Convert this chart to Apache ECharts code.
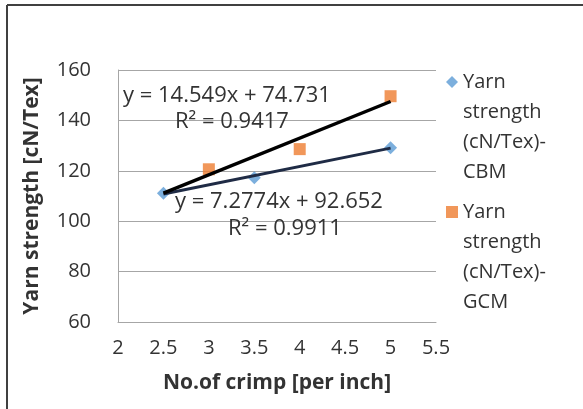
<!DOCTYPE html>
<html>
<head>
<meta charset="utf-8">
<script src="https://cdn.jsdelivr.net/npm/echarts@6/dist/echarts.min.js"></script>
<style>
  html, body { margin: 0; padding: 0; background: #fff; }
  #chart { width: 583px; height: 409px; }
</style>
</head>
<body>
<div id="chart"></div>
<script>
// crimp (per inch) vs yarn strength (cN/Tex)
var cbmData = [[2.5, 111.1], [3.5, 117.2], [5, 129.1]];
var gcmData = [[3, 120.6], [4, 128.6], [5, 149.6]];
// linear trendline end points
var cbmTrend = [[2.5, 110.8], [5, 129.0]];
var gcmTrend = [[2.5, 111.1], [5, 147.5]];
var seriesNames = ["Yarn strength (cN/Tex)-CBM", "Yarn strength (cN/Tex)-GCM"];
var cbmEquation = ["y = 7.2774x + 92.652", "R² = 0.9911"];
var gcmEquation = ["y = 14.549x + 74.731", "R² = 0.9417"];

var font = "Open Sans";
var txtColor = "#333";

var myChart = echarts.init(document.getElementById("chart"));

var option = {
  backgroundColor: "#fff",
  animation: false,
  textStyle: { fontFamily: font },
  grid: { left: 118, right: 147, top: 70, bottom: 87 },
  legend: {
    orient: "vertical",
    left: 446,
    top: -23,
    padding: 0,
    itemGap: -80,
    itemWidth: 12,
    itemHeight: 12,
    data: [
      { name: seriesNames[0], icon: "diamond" },
      { name: seriesNames[1], icon: "rect" }
    ],
    // three empty lines first, so the first text line sits level with the icon
    formatter: function (name) {
      return "\n\n\n" + name.replace("Yarn strength ", "Yarn\nstrength\n").replace(")-", ")-\n");
    },
    textStyle: {
      fontFamily: font,
      fontSize: 20,
      color: txtColor,
      lineHeight: 30
    }
  },
  xAxis: {
    type: "value",
    min: 2,
    max: 5.5,
    interval: 0.5,
    name: "No.of crimp [per inch]",
    nameLocation: "middle",
    nameGap: 51,
    nameTextStyle: { fontFamily: font, fontSize: 21, fontWeight: "bold", color: txtColor },
    axisLine: { show: true, lineStyle: { color: "#a6a6a6", width: 1 } },
    axisTick: { show: false },
    splitLine: { show: false },
    axisLabel: { fontFamily: font, fontSize: 20, color: txtColor, margin: 16 }
  },
  yAxis: {
    type: "value",
    min: 60,
    max: 160,
    interval: 20,
    name: "Yarn strength [cN/Tex]",
    nameLocation: "middle",
    nameGap: 75,
    nameTextStyle: { fontFamily: font, fontSize: 21, fontWeight: "bold", color: txtColor },
    axisLine: { show: true, lineStyle: { color: "#a6a6a6", width: 1 } },
    axisTick: { show: false },
    splitLine: { show: true, lineStyle: { color: "#a6a6a6", width: 1 } },
    axisLabel: { fontFamily: font, fontSize: 20, color: txtColor, margin: 27 }
  },
  series: [
    {
      name: seriesNames[0],
      type: "scatter",
      symbol: "diamond",
      symbolSize: 13,
      itemStyle: { color: "#5b9bd5" },
      data: cbmData,
      z: 2
    },
    {
      name: seriesNames[1],
      type: "scatter",
      symbol: "rect",
      symbolSize: 12,
      itemStyle: { color: "#ed7d31" },
      data: gcmData,
      z: 2
    },
    {
      name: "cbm trend",
      type: "line",
      showSymbol: false,
      symbol: "none",
      lineStyle: { color: "#1f2b45", width: 3 },
      data: cbmTrend,
      z: 3
    },
    {
      name: "gcm trend",
      type: "line",
      showSymbol: false,
      symbol: "none",
      lineStyle: { color: "#000", width: 3.5 },
      data: gcmTrend,
      z: 4
    }
  ],
  graphic: [
    // outer chart border (only top and left visible)
    { type: "line", shape: { x1: 7, y1: 5, x2: 583, y2: 5 }, style: { stroke: "#404040", lineWidth: 2 } },
    { type: "line", shape: { x1: 7, y1: 5, x2: 7, y2: 409 }, style: { stroke: "#404040", lineWidth: 2 } },
    { type: "text", left: 123, top: 85, style: { text: gcmEquation[0], font: "22px " + font, fill: txtColor }, z: 10 },
    { type: "text", left: 175, top: 111, style: { text: gcmEquation[1], font: "22px " + font, fill: txtColor }, z: 10 },
    { type: "text", left: 175, top: 191, style: { text: cbmEquation[0], font: "22px " + font, fill: txtColor }, z: 10 },
    { type: "text", left: 228, top: 218, style: { text: cbmEquation[1], font: "22px " + font, fill: txtColor }, z: 10 }
  ]
};

myChart.setOption(option);
window.addEventListener("resize", function () {
  myChart.resize();
});
</script>
</body>
</html>
